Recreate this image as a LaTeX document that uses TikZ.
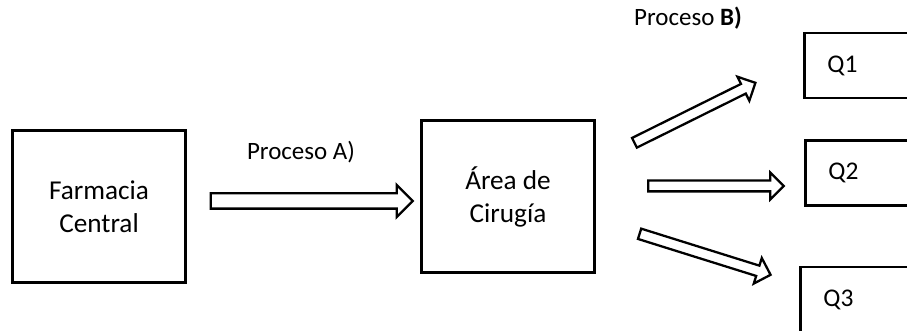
\documentclass[tikz,border=0pt]{standalone}
\usepackage{fontspec}
\setmainfont{Carlito}
\usetikzlibrary{shapes.arrows,calc}

\tikzset{
  caja/.style={draw, line width=1.6pt, minimum width=3.46cm, minimum height=3.04cm, align=center, font=\fontsize{15.5}{18.8}\selectfont},
  quirofano/.style={draw, line width=1.6pt, anchor=west, minimum height=1.3cm, text width=2.5cm, inner xsep=0.46cm, align=left, font=\fontsize{14.5}{17}\selectfont},
  flecha/.style={draw, line width=1.3pt, single arrow, single arrow tip angle=90, minimum width=0pt, inner xsep=0pt, inner ysep=0.085cm, single arrow head extend=0.16cm, midway, sloped, anchor=center},
  flechaA/.style={flecha, inner ysep=0.13cm, single arrow head extend=0.17cm},
  etiqueta/.style={font=\fontsize{14.2}{17}\selectfont}
}

\begin{document}
\begin{tikzpicture}
\useasboundingbox (0,0) rectangle (18.14,6.62);
\clip (0,0) rectangle (18.14,6.62);

\node[caja] (farmacia) at (1.98,2.49) {Farmacia\\Central};
\node[caja] (cirugia) at (10.16,2.69) {Área de\\Cirugía};

\node[quirofano] (q1) at (16.06,5.31) {Q1};
\node[quirofano] (q2) at (16.08,3.16) {Q2};
\node[quirofano] (q3) at (15.98,0.63) {Q3};

\node[etiqueta] (procA) at (6.02,3.58) {Proceso A)};
\node[etiqueta] (procB) at (13.76,6.26) {Proceso \textbf{B)}};

% tails and tips of the block arrows
\coordinate (tA) at (4.14,2.6);
\coordinate (hA) at (8.18,2.6);
\coordinate (tB1) at (12.64,3.74);
\coordinate (hB1) at (15.06,4.94);
\coordinate (tB2) at (12.91,2.9);
\coordinate (hB2) at (15.62,2.9);
\coordinate (tB3) at (12.74,1.96);
\coordinate (hB3) at (15.36,1.14);

\path let \p1=($(hA)-(tA)$) in (tA) -- (hA) node[flechaA, minimum height={veclen(\x1,\y1)}]{};
\foreach \i in {B1,B2,B3}
{
    \path let \p1=($(h\i)-(t\i)$) in (t\i) -- (h\i) node[flecha, minimum height={veclen(\x1,\y1)}]{};
}
\end{tikzpicture}
\end{document}
